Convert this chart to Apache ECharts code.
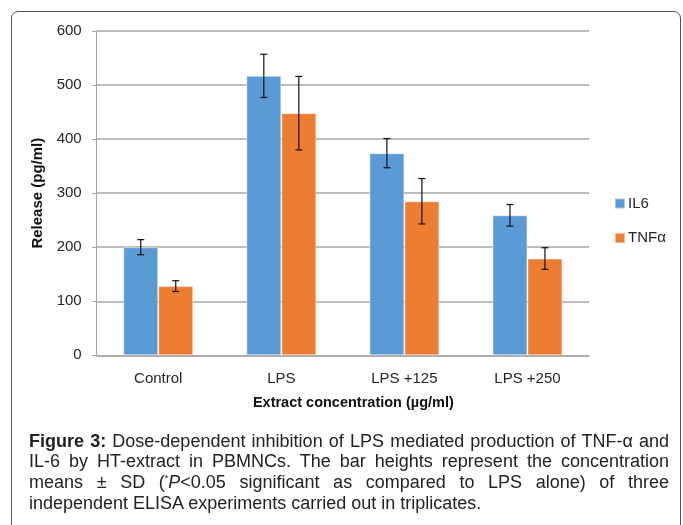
<!DOCTYPE html>
<html>
<head>
<meta charset="utf-8">
<script src="https://cdn.jsdelivr.net/npm/echarts@6/dist/echarts.min.js"></script>
<style>
  html, body { margin: 0; padding: 0; background: #fff; }
  .page { position: relative; width: 683px; height: 525px; overflow: hidden; }
  .frame {
    position: absolute; left: 11px; top: 11px; width: 670px; height: 540px;
    border: 1px solid #555; border-radius: 7px; box-sizing: border-box;
  }
  #chart { position: absolute; left: 0; top: 0; width: 683px; height: 525px; }
  .caption {
    position: absolute; left: 29px; top: 430.5px; width: 640px;
    font-family: "Liberation Sans", Arial, sans-serif; font-size: 18px;
    line-height: 20.7px; color: #222;
  }
  .caption div { white-space: nowrap; text-align: justify; text-align-last: justify; height: 20.7px; }
  .caption div.last { text-align-last: left; }
  .caption .star { font-size: 9px; position: relative; top: -7px; line-height: 0; }
</style>
</head>
<body>
<div class="page">
  <div class="frame"></div>
  <div id="chart"></div>
  <div class="caption">
    <div><b>Figure 3:</b> Dose-dependent inhibition of LPS mediated production of TNF-α and</div>
    <div>IL-6 by HT-extract in PBMNCs. The bar heights represent the concentration</div>
    <div>means ± SD (<span class="star">*</span><i>P</i>&lt;0.05 significant as compared to LPS alone) of three</div>
    <div class="last">independent ELISA experiments carried out in triplicates.</div>
  </div>
</div>
<script>
// 数据
const categories = ['Control', 'LPS', 'LPS +125', 'LPS +250']
const il6Values = [200, 517, 374, 259]
const il6Sd = [14, 40, 27, 20]
const tnfValues = [128, 448, 285, 179]
const tnfSd = [10, 68, 42, 20]
const yTicks = [0, 100, 200, 300, 400, 500, 600]

const BAR_WIDTH = 35
const FONT = 'Liberation Sans'

const chart = echarts.init(document.getElementById('chart'))

// 误差线
const errorRender = (offset) => (params, api) => {
  const i = api.value(0)
  const m = api.value(1)
  const s = api.value(2)
  const top = api.coord([i, m + s])
  const bot = api.coord([i, m - s])
  const x = top[0] + offset
  const style = { stroke: '#111', lineWidth: 1.2 }
  return {
    type: 'group',
    children: [
      { type: 'line', shape: { x1: x, y1: top[1], x2: x, y2: bot[1] }, style },
      { type: 'line', shape: { x1: x - 3.5, y1: top[1], x2: x + 3.5, y2: top[1] }, style },
      { type: 'line', shape: { x1: x - 3.5, y1: bot[1], x2: x + 3.5, y2: bot[1] }, style },
    ],
  }
}

const option = {
  animation: false,
  grid: { left: 96.7, right: 94, top: 31, bottom: 169.7, containLabel: false },
  legend: {
    data: ['IL6', 'TNFα'],
    orient: 'vertical',
    left: 614,
    top: 196,
    padding: 0,
    itemWidth: 10,
    itemHeight: 10,
    itemGap: 19.6,
    icon: 'rect',
    textStyle: { fontFamily: FONT, fontSize: 15, color: '#262626', lineHeight: 10, padding: [0, 0, 0, -2] },
  },
  xAxis: {
    type: 'category',
    data: categories,
    axisLine: { lineStyle: { color: '#a6a6a6', width: 1.5 } },
    axisTick: { show: false },
    axisLabel: { fontFamily: FONT, fontSize: 15, color: '#262626', margin: 16 },
    name: 'Extract concentration (µg/ml)',
    nameLocation: 'middle',
    nameGap: 40,
    nameTextStyle: { fontFamily: FONT, fontSize: 14.5, fontWeight: 'bold', color: '#111', padding: [0, 0, 0, 21] },
  },
  yAxis: {
    type: 'value',
    min: 0,
    max: 600,
    interval: 100,
    axisLine: { show: true, lineStyle: { color: '#a6a6a6' } },
    axisTick: { show: true, length: 5, lineStyle: { color: '#a6a6a6' } },
    axisLabel: {
      fontFamily: FONT, fontSize: 15, color: '#262626', margin: 15,
      formatter: (v) => (yTicks.includes(v) ? String(v) : ''),
    },
    splitLine: { lineStyle: { color: '#a6a6a6', width: 1.5 } },
    name: 'Release (pg/ml)',
    nameLocation: 'middle',
    nameGap: 43,
    nameTextStyle: { fontFamily: FONT, fontSize: 15, fontWeight: 'bold', color: '#111' },
  },
  series: [
    {
      name: 'IL6',
      type: 'bar',
      data: il6Values,
      barWidth: BAR_WIDTH,
      barGap: '0%',
      itemStyle: { color: '#5b9bd5', borderColor: 'rgba(255,255,255,0.45)', borderWidth: 1 },
    },
    {
      name: 'TNFα',
      type: 'bar',
      data: tnfValues,
      barWidth: BAR_WIDTH,
      barGap: '0%',
      itemStyle: { color: '#ed7d31', borderColor: 'rgba(255,255,255,0.45)', borderWidth: 1 },
    },
    {
      name: 'IL6 SD',
      type: 'custom',
      renderItem: errorRender(-BAR_WIDTH / 2),
      data: il6Values.map((v, i) => [i, v, il6Sd[i]]),
      encode: { x: 0, y: 1 },
      z: 10,
    },
    {
      name: 'TNFα SD',
      type: 'custom',
      renderItem: errorRender(BAR_WIDTH / 2),
      data: tnfValues.map((v, i) => [i, v, tnfSd[i]]),
      encode: { x: 0, y: 1 },
      z: 10,
    },
  ],
}

chart.setOption(option)
</script>
</body>
</html>
